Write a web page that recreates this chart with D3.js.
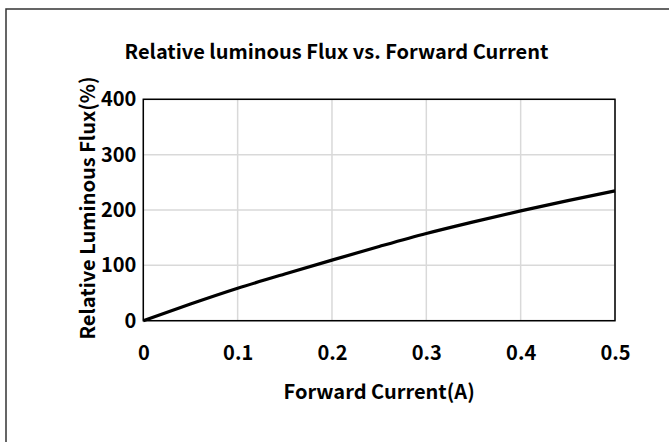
<!DOCTYPE html>
<html><head><meta charset="utf-8">
<script src="https://cdn.jsdelivr.net/npm/d3@7"></script>
<style>
html,body{margin:0;padding:0;background:#fff;}
text{font-family:"Malgun Gothic","Noto Sans CJK KR","Noto Sans",sans-serif;font-weight:bold;fill:#000;}
</style></head>
<body>
<svg id="c" width="669" height="442"></svg>
<script>
const currents = [0, 0.05, 0.1, 0.15, 0.2, 0.25, 0.3, 0.35, 0.4, 0.45, 0.5];
const fluxValues = [0, 30, 58.5, 84.5, 109.5, 134, 157.5, 178.5, 198.5, 217, 234.5];
const xTicks = [0, 0.1, 0.2, 0.3, 0.4, 0.5];
const yTicks = [0, 100, 200, 300, 400];
const titleText = "Relative luminous Flux vs. Forward Current";
const xTitle = "Forward Current(A)";
const yTitle = "Relative Luminous Flux(%)";

const svg = d3.select("#c");
svg.append("rect").attr("x", 6).attr("y", 9).attr("width", 700).attr("height", 500)
  .attr("fill", "none").attr("stroke", "#333").attr("stroke-width", 1.5);

const L = 143.3, R = 615, T = 99.3, B = 320.7;
const x = d3.scaleLinear().domain([0, 0.5]).range([L, R]);
const y = d3.scaleLinear().domain([0, 400]).range([B, T]);

// gridlines
svg.append("g").selectAll("line").data(xTicks).join("line")
  .attr("x1", d => x(d)).attr("x2", d => x(d)).attr("y1", T).attr("y2", B)
  .attr("stroke", "#d9d9d9").attr("stroke-width", 1.5);
svg.append("g").selectAll("line").data(yTicks).join("line")
  .attr("x1", L).attr("x2", R).attr("y1", d => y(d)).attr("y2", d => y(d))
  .attr("stroke", "#d9d9d9").attr("stroke-width", 1.5);

// plot border
svg.append("rect").attr("x", L).attr("y", T).attr("width", R - L).attr("height", B - T)
  .attr("fill", "none").attr("stroke", "#000").attr("stroke-width", 1.5);

const xAxis = svg.append("g").attr("transform", `translate(0,${B})`)
  .call(d3.axisBottom(x).tickValues(xTicks).tickFormat(d => d === 0 ? "0" : d3.format(".1f")(d)).tickSize(0).tickPadding(25));
xAxis.select(".domain").remove();
xAxis.attr("font-family", null).attr("font-size", null);
xAxis.selectAll("text").style("font-size", "20px");

const yAxis = svg.append("g").attr("transform", `translate(${L},0)`)
  .call(d3.axisLeft(y).tickValues(yTicks).tickFormat(d3.format("d")).tickSize(0).tickPadding(7));
yAxis.select(".domain").remove();
yAxis.attr("font-family", null).attr("font-size", null);
yAxis.selectAll("text").style("font-size", "20px");

// line
svg.append("path").datum(currents.map((c, i) => [c, fluxValues[i]]))
  .attr("d", d3.line().x(d => x(d[0])).y(d => y(d[1])).curve(d3.curveMonotoneX))
  .attr("fill", "none").attr("stroke", "#000").attr("stroke-width", 3.2);

svg.append("text").attr("x", 336.5).attr("y", 59).attr("text-anchor", "middle")
  .style("font-size", "20px").text(titleText);
svg.append("text").attr("x", (L + R) / 2).attr("y", 399).attr("text-anchor", "middle")
  .style("font-size", "20px").text(xTitle);
svg.append("text").attr("transform", `translate(95,208) rotate(-90)`).attr("text-anchor", "middle")
  .style("font-size", "20px").text(yTitle);
</script>
</body></html>
